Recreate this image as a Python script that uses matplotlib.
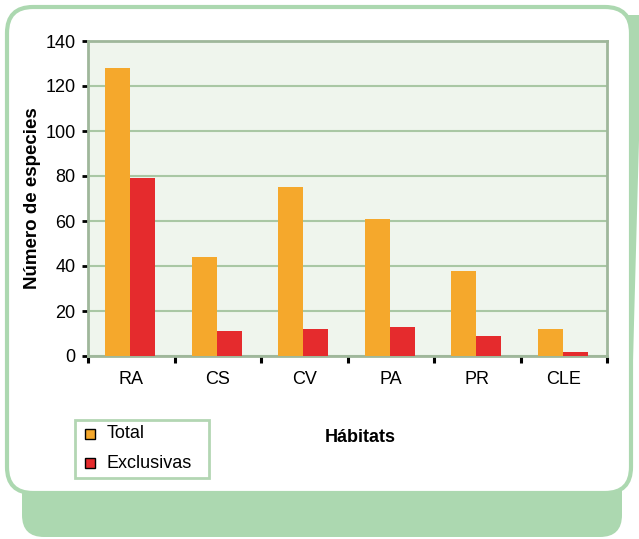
import matplotlib
matplotlib.use("Agg")
import matplotlib.pyplot as plt
from matplotlib.patches import FancyBboxPatch, Polygon, Rectangle
import numpy as np

plt.rcParams['font.family'] = ['Liberation Sans', 'DejaVu Sans']

habitats = ["RA", "CS", "CV", "PA", "PR", "CLE"]
total = [128, 44, 75, 61, 38, 12]
exclusivas = [79, 11, 12, 13, 9, 2]

orange = "#f5a82c"
red = "#e52b2d"
green = "#acd8b0"
grid_green = "#a9c7a4"

fig = plt.figure(figsize=(6.39, 5.39), dpi=100)

# background frame drawn in pixel coordinates
bg = fig.add_axes([0, 0, 1, 1])
bg.set_xlim(0, 639)
bg.set_ylim(539, 0)
bg.axis("off")
bg.add_patch(FancyBboxPatch((22, 420), 600, 117, boxstyle="round,pad=0,rounding_size=22",
                            fc=green, ec="none"))
bg.add_patch(Polygon([(600, 15), (639, 15), (639, 140), (630, 470), (600, 470)],
                     closed=True, fc=green, ec="none"))
bg.add_patch(FancyBboxPatch((7, 7), 624, 486, boxstyle="round,pad=0,rounding_size=26",
                            fc="white", ec=green, lw=3))

ax = fig.add_axes([88 / 639, 1 - 356 / 539, (607 - 88) / 639, (356 - 41) / 539])
ax.set_facecolor("#eff5ed")

x = np.arange(len(habitats)) + 0.49
w = 0.29
ax.bar(x - w / 2, total, w, color=orange, zorder=3)
ax.bar(x + w / 2, exclusivas, w, color=red, zorder=3)

ax.set_xlim(0, 6)
ax.set_ylim(0, 140)
ax.set_yticks(range(0, 141, 20))
ax.yaxis.grid(True, color=grid_green, lw=1.5, zorder=1)
ax.tick_params(axis="y", length=4, width=2, color="black", labelsize=13, pad=5)

ax.set_xticks(range(0, 7))
ax.set_xticklabels([])
ax.set_xticks(np.arange(len(habitats)) + 0.5, minor=True)
ax.set_xticklabels(habitats, minor=True)
ax.tick_params(axis="x", which="major", length=5, width=2.2, color="black", direction="out")
ax.tick_params(axis="x", which="minor", length=0, labelsize=13, pad=11)

for s in ax.spines.values():
    s.set_color("#9fb79b")
    s.set_linewidth(2)

ax.set_ylabel("Número de especies", fontsize=13.5, fontweight="bold", labelpad=3)

# legend box
bg.add_patch(Rectangle((75, 420), 134, 58, fc="white", ec="#b3d6b3", lw=2))
bg.add_patch(Rectangle((85, 429), 10, 10, fc=orange, ec="black", lw=1))
bg.add_patch(Rectangle((85, 458), 10, 10, fc=red, ec="black", lw=1))
bg.text(107, 434, "Total", fontsize=13, va="center", ha="left")
bg.text(107, 463, "Exclusivas", fontsize=13, va="center", ha="left")

bg.text(360, 437, "Hábitats", fontsize=13, fontweight="bold", va="center", ha="center")

fig.savefig("out.png", dpi=100)
